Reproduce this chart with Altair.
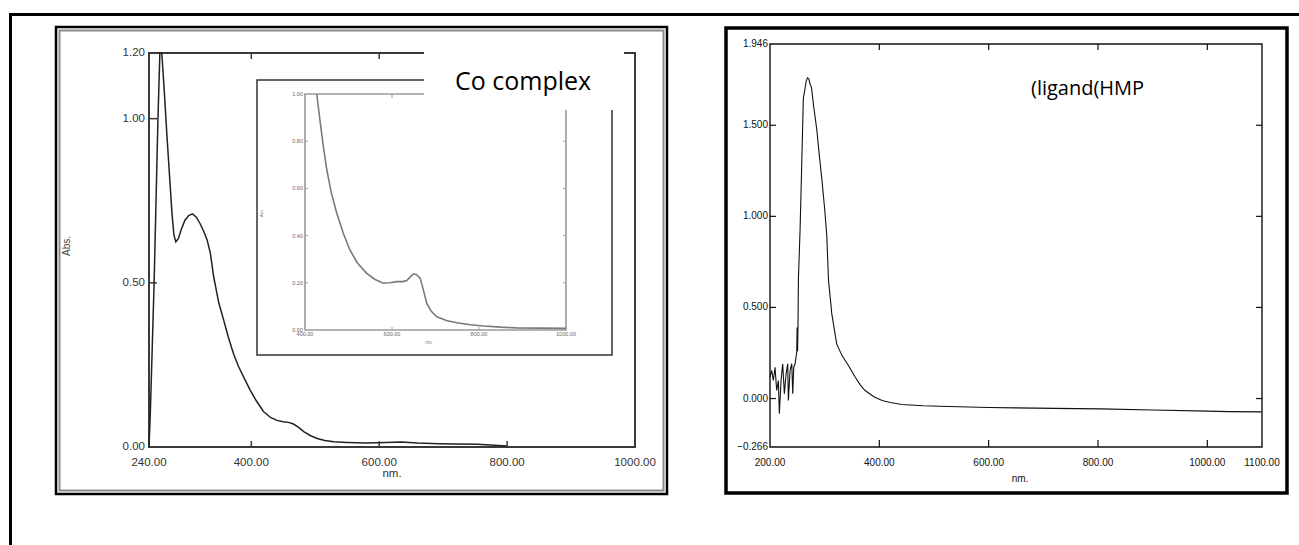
import altair as alt
import pandas as pd

# ---------------- data ----------------
co_nm = [240, 242, 245, 248, 251, 254, 257, 260, 264, 268, 272, 276, 279, 282, 286, 290,
         296, 302, 308, 314, 320, 326, 331, 336, 341, 349, 357, 364, 372, 380, 390, 398,
         408, 419, 430, 440, 450, 458, 466, 474, 482, 492, 503, 515, 529, 550, 581, 610,
         634, 660, 693, 720, 754, 780, 800]
co_abs = [0.00, 0.10, 0.30, 0.50, 0.75, 1.00, 1.20, 1.20, 1.08, 0.95, 0.83, 0.71, 0.645, 0.625,
          0.635, 0.66, 0.69, 0.705, 0.71, 0.70, 0.68, 0.655, 0.63, 0.59, 0.52, 0.44, 0.385,
          0.335, 0.285, 0.245, 0.205, 0.174, 0.14, 0.108, 0.09, 0.081, 0.077, 0.075, 0.07,
          0.06, 0.047, 0.035, 0.026, 0.02, 0.016, 0.014, 0.012, 0.014, 0.015, 0.012, 0.010,
          0.009, 0.008, 0.005, 0.003]

inset_nm = [427, 435, 442, 450, 460, 473, 488, 503, 520, 542, 560, 580, 595, 611, 625, 634,
            642, 649, 656, 665, 672, 680, 690, 703, 725, 749, 780, 810, 850, 887, 940, 1000]
inset_abs = [1.0, 0.88, 0.78, 0.68, 0.585, 0.495, 0.41, 0.34, 0.285, 0.24, 0.215, 0.198, 0.2,
             0.205, 0.205, 0.21, 0.225, 0.237, 0.235, 0.219, 0.17, 0.113, 0.08, 0.056, 0.04,
             0.031, 0.022, 0.017, 0.012, 0.009, 0.008, 0.007]

hmp_nm = [200.0, 203.1, 206.1, 209.2, 212.2, 215.3, 217.1, 220.2, 223.2, 226.3, 229.4, 232.4,
          233.6, 236.7, 239.8, 241.6, 243.4, 245.9, 248.9, 249.6, 250.4, 251.2, 252.0, 255.0,
          258.0, 261.0, 263.0, 266.0, 268.5, 271.0, 273.0, 276.0, 280.0, 285.6, 290.0, 295.0,
          300.0, 304.0, 307.0, 313.0, 322.0, 331.5, 343.7, 356.0, 365.0, 374.0, 390.0, 405.0,
          420.0, 441.6, 480.0, 527.0, 600.0, 650.0, 720.0, 805.0, 900.0, 1000.0, 1038.0, 1099.0]
hmp_abs = [0.117, 0.154, 0.099, 0.172, 0.044, 0.099, -0.084, 0.099, 0.191, 0.026, 0.135, 0.191,
           -0.011, 0.154, 0.191, 0.026, 0.172, 0.191, 0.255, 0.39, 0.26, 0.40, 0.66, 0.925,
           1.28, 1.65, 1.68, 1.74, 1.76, 1.755, 1.73, 1.705, 1.6, 1.476, 1.34, 1.2, 1.04, 0.888,
           0.65, 0.466, 0.30, 0.237, 0.18, 0.117, 0.075, 0.044, 0.01, -0.011, -0.022, -0.033,
           -0.04, -0.044, -0.049, -0.051, -0.054, -0.057, -0.063, -0.069, -0.072, -0.073]

co_x_labels = [240, 400, 600, 800, 1000]
co_y_labels = [0.0, 0.5, 1.0, 1.2]
co_x_ticks = [400, 600, 800]
co_y_ticks = [0.5, 1.0]
inset_x_labels = [400, 600, 800, 1000]
inset_y_labels = [0.0, 0.2, 0.4, 0.6, 0.8, 1.0]
inset_x_ticks = [600, 800]
inset_y_ticks = [0.2, 0.4, 0.6, 0.8]
hmp_x_labels = [200, 400, 600, 800, 1000, 1100]
hmp_y_labels = [-0.266, 0.0, 0.5, 1.0, 1.5, 1.946]
hmp_x_ticks = [400, 600, 800, 1000]
hmp_y_ticks = [0.0, 0.5, 1.0, 1.5]

W, H = 1299, 545
AXF = "Liberation Sans"
TXF = "Open Sans"

one = pd.DataFrame({"k": [0]})


def box(x0, x1, y0, y1, **kw):
    return alt.Chart(one).mark_rect(**kw).encode(
        x=alt.value(x0), x2=alt.value(x1), y=alt.value(y0), y2=alt.value(y1))


def hline(x0, x1, y, color, sw):
    return alt.Chart(one).mark_rule(color=color, strokeWidth=sw).encode(
        x=alt.value(x0), x2=alt.value(x1), y=alt.value(y))


def vline(x, y0, y1, color, sw):
    return alt.Chart(one).mark_rule(color=color, strokeWidth=sw).encode(
        x=alt.value(x), y=alt.value(y0), y2=alt.value(y1))


def text(t, x, y, **kw):
    return alt.Chart(one).mark_text(text=t, **kw).encode(x=alt.value(x), y=alt.value(y))


def vticks(vals, scale, y0, y1, color, sw):
    return alt.Chart(pd.DataFrame({"v": vals})).mark_rule(color=color, strokeWidth=sw).encode(
        x=alt.X("v:Q", scale=scale, axis=None), y=alt.value(y0), y2=alt.value(y1))


def hticks(vals, scale, x0, x1, color, sw):
    return alt.Chart(pd.DataFrame({"v": vals})).mark_rule(color=color, strokeWidth=sw).encode(
        y=alt.Y("v:Q", scale=scale, axis=None), x=alt.value(x0), x2=alt.value(x1))


def xlabels(vals, fmt, scale, ypix, size, color):
    return alt.Chart(pd.DataFrame({"v": vals})).transform_calculate(
        t=f"format(datum.v, '{fmt}')"
    ).mark_text(align="center", baseline="top", font=AXF, fontSize=size, color=color).encode(
        x=alt.X("v:Q", scale=scale, axis=None), y=alt.value(ypix), text="t:N")


def ylabels(vals, fmt, scale, xpix, size, color):
    return alt.Chart(pd.DataFrame({"v": vals})).transform_calculate(
        t=f"format(datum.v, '{fmt}')"
    ).mark_text(align="right", baseline="middle", font=AXF, fontSize=size, color=color).encode(
        y=alt.Y("v:Q", scale=scale, axis=None), x=alt.value(xpix), text="t:N")


def curve(df, xs, ys, color, sw):
    return alt.Chart(df).mark_line(color=color, strokeWidth=sw).encode(
        x=alt.X("nm:Q", scale=xs, axis=None), y=alt.Y("abs:Q", scale=ys, axis=None))


# ---------------- main Co complex panel ----------------
MX0, MX1, MYB, MYT = 149, 635, 447, 53
mxs = alt.Scale(domain=[240, 1000], range=[MX0, MX1], clamp=True, nice=False, zero=False)
mys = alt.Scale(domain=[0, 1.2], range=[MYB, MYT], clamp=True, nice=False, zero=False)
main_df = pd.DataFrame({"nm": co_nm, "abs": co_abs})
main_panel = alt.layer(
    box(MX0, MX1, MYT, MYB, fillOpacity=0, stroke="#3a3a3a", strokeWidth=2),
    vticks(co_x_ticks, mxs, MYB, MYB - 6, "#3a3a3a", 1.5),
    vticks([400, 600], mxs, MYT, MYT + 6, "#3a3a3a", 1.5),
    hticks(co_y_ticks, mys, MX0, MX0 + 8, "#3a3a3a", 1.5),
    xlabels(co_x_labels, ".2f", mxs, MYB + 10, 11.5, "#333333"),
    ylabels(co_y_labels, ".2f", mys, MX0 - 4, 11.5, "#333333"),
    curve(main_df, mxs, mys, "#222222", 1.5),
)

# ---------------- inset ----------------
IX0, IX1, IYB, IYT = 305, 566, 330, 94
ixs = alt.Scale(domain=[400, 1000], range=[IX0, IX1], clamp=True, nice=False, zero=False)
iys = alt.Scale(domain=[0, 1.0], range=[IYB, IYT], clamp=True, nice=False, zero=False)
inset_df = pd.DataFrame({"nm": inset_nm, "abs": inset_abs})
inset_panel = alt.layer(
    box(IX0, IX1, IYT, IYB, fillOpacity=0, stroke="#9a9a9a", strokeWidth=1.6),
    vticks(inset_x_ticks, ixs, IYB, IYB - 3, "#9a9a9a", 1),
    vticks([600], ixs, IYT, IYT + 4, "#9a9a9a", 1),
    hticks(inset_y_ticks, iys, IX0, IX0 + 3, "#9a9a9a", 1),
    hticks(inset_y_ticks, iys, IX1 - 3, IX1, "#9a9a9a", 1),
    xlabels(inset_x_labels, ".2f", ixs, IYB + 1.5, 5.5, "#666666"),
    ylabels(inset_y_labels, ".2f", iys, IX0 - 2, 5.5, "#666666"),
    curve(inset_df, ixs, iys, "#7a7a7a", 1.6),
)

# ---------------- right HMP ligand panel ----------------
RX0, RX1, RYB, RYT = 770, 1262, 447, 44
rxs = alt.Scale(domain=[200, 1100], range=[RX0, RX1], clamp=True, nice=False, zero=False)
rys = alt.Scale(domain=[-0.266, 1.946], range=[RYB, RYT], clamp=True, nice=False, zero=False)
hmp_df = pd.DataFrame({"nm": hmp_nm, "abs": hmp_abs})
right_panel = alt.layer(
    box(RX0, RX1, RYT, RYB, fillOpacity=0, stroke="#111111", strokeWidth=1.4),
    vticks(hmp_x_ticks, rxs, RYB, RYB - 7, "#111111", 1.2),
    vticks(hmp_x_ticks, rxs, RYT, RYT + 6, "#111111", 1.2),
    hticks(hmp_y_ticks, rys, RX0, RX0 + 6, "#111111", 1.2),
    hticks(hmp_y_ticks, rys, RX1 - 6, RX1, "#111111", 1.2),
    xlabels(hmp_x_labels, ".2f", rxs, RYB + 11, 10, "#111111"),
    ylabels(hmp_y_labels, ".3f", rys, RX0 - 2, 10, "#111111"),
    curve(hmp_df, rxs, rys, "#111111", 1.1),
)

chart = alt.layer(
    # outer frame
    hline(9, W, 14.5, "#000000", 3),
    vline(10.5, 13, H, "#000000", 3),
    # left panel frame
    box(56, 667, 27, 494, fillOpacity=0, stroke="#000000", strokeWidth=2.5),
    box(59.5, 663.5, 30.5, 490.5, fillOpacity=0, stroke="#8a8a8a", strokeWidth=2),
    main_panel,
    text("Abs.", 67, 246, angle=270, font=AXF, fontSize=10, color="#444444"),
    text("nm.", 392, 474, font=AXF, fontSize=11.5, color="#333333"),
    # inset
    box(257, 612, 80, 355, fill="#ffffff", stroke="#333333", strokeWidth=1.5),
    inset_panel,
    text("Abs.", 262, 213, angle=270, font=AXF, fontSize=4, color="#777777"),
    text("nm.", 429, 343, font=AXF, fontSize=4.5, color="#777777"),
    # white label box
    box(424, 624, 36, 110, fill="#ffffff", strokeWidth=0),
    text("Co complex", 455, 90, align="left", baseline="alphabetic", font=TXF,
         fontSize=25, color="#000000"),
    # right panel
    box(726, 1287, 28, 493, fillOpacity=0, stroke="#000000", strokeWidth=3.5),
    right_panel,
    text("nm.", 1020, 479, font=AXF, fontSize=10, color="#111111"),
    text("(ligand(HMP", 1031, 95, align="left", baseline="alphabetic", font=TXF,
         fontSize=20, color="#000000"),
).resolve_scale(x="independent", y="independent").properties(
    width=W, height=H, padding=0, autosize=alt.AutoSizeParams(type="none"),
    background="#ffffff",
).configure_view(strokeWidth=0)

chart.save("out.html", embed_options={"renderer": "svg", "actions": False})
